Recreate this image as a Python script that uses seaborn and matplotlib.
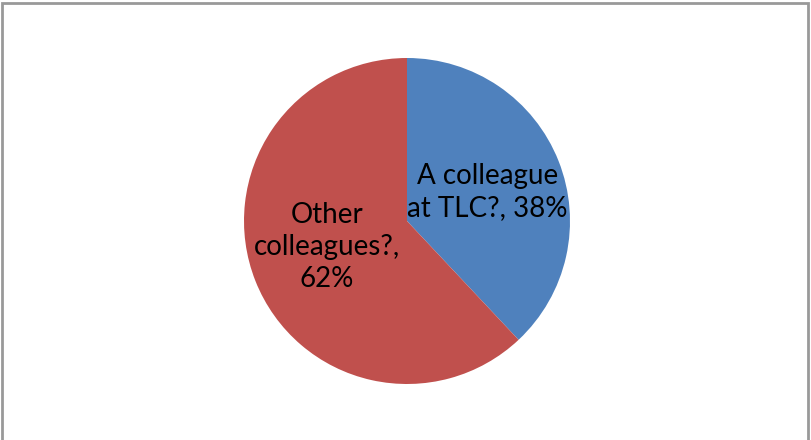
import matplotlib
matplotlib.use("Agg")
import matplotlib.pyplot as plt
import seaborn as sns
import numpy as np

sns.set_theme(style="white")
plt.rcParams["font.family"] = ["Lato", "DejaVu Sans"]

categories = ["A colleague\nat TLC?, 38%", "Other\ncolleagues?,\n62%"]
values = [38, 62]
colors = ["#4F81BD", "#C0504D"]

W, H = 811, 440
fig = plt.figure(figsize=(W / 100, H / 100), dpi=100)
fig.patch.set_facecolor("white")

# outer chart frame
frame = plt.Rectangle((2 / W, -0.05), (808 - 2) / W, (H - 3.5) / H + 0.05,
                      transform=fig.transFigure, fill=False,
                      edgecolor="#999999", linewidth=2)
fig.add_artist(frame)

cx, cy, r = 407, 221, 163
ax = fig.add_axes([(cx - r) / W, (H - cy - r) / H, 2 * r / W, 2 * r / H])
wedges, texts = ax.pie(values, colors=colors, startangle=90, counterclock=False,
                       labels=categories, labeldistance=0.53,
                       wedgeprops=dict(linewidth=0),
                       textprops=dict(fontsize=20, color="black",
                                      ha="center", va="center",
                                      linespacing=1.3))
# nudge the label blocks vertically for balance inside each slice
for t, dy in zip(texts, [-0.018, 0.035]):
    x, y = t.get_position()
    t.set_position((x, y + dy))

ax.set_xlim(-1, 1)
ax.set_ylim(-1, 1)
ax.set_aspect("equal")
ax.axis("off")

fig.savefig("out.png", dpi=100, facecolor="white")
